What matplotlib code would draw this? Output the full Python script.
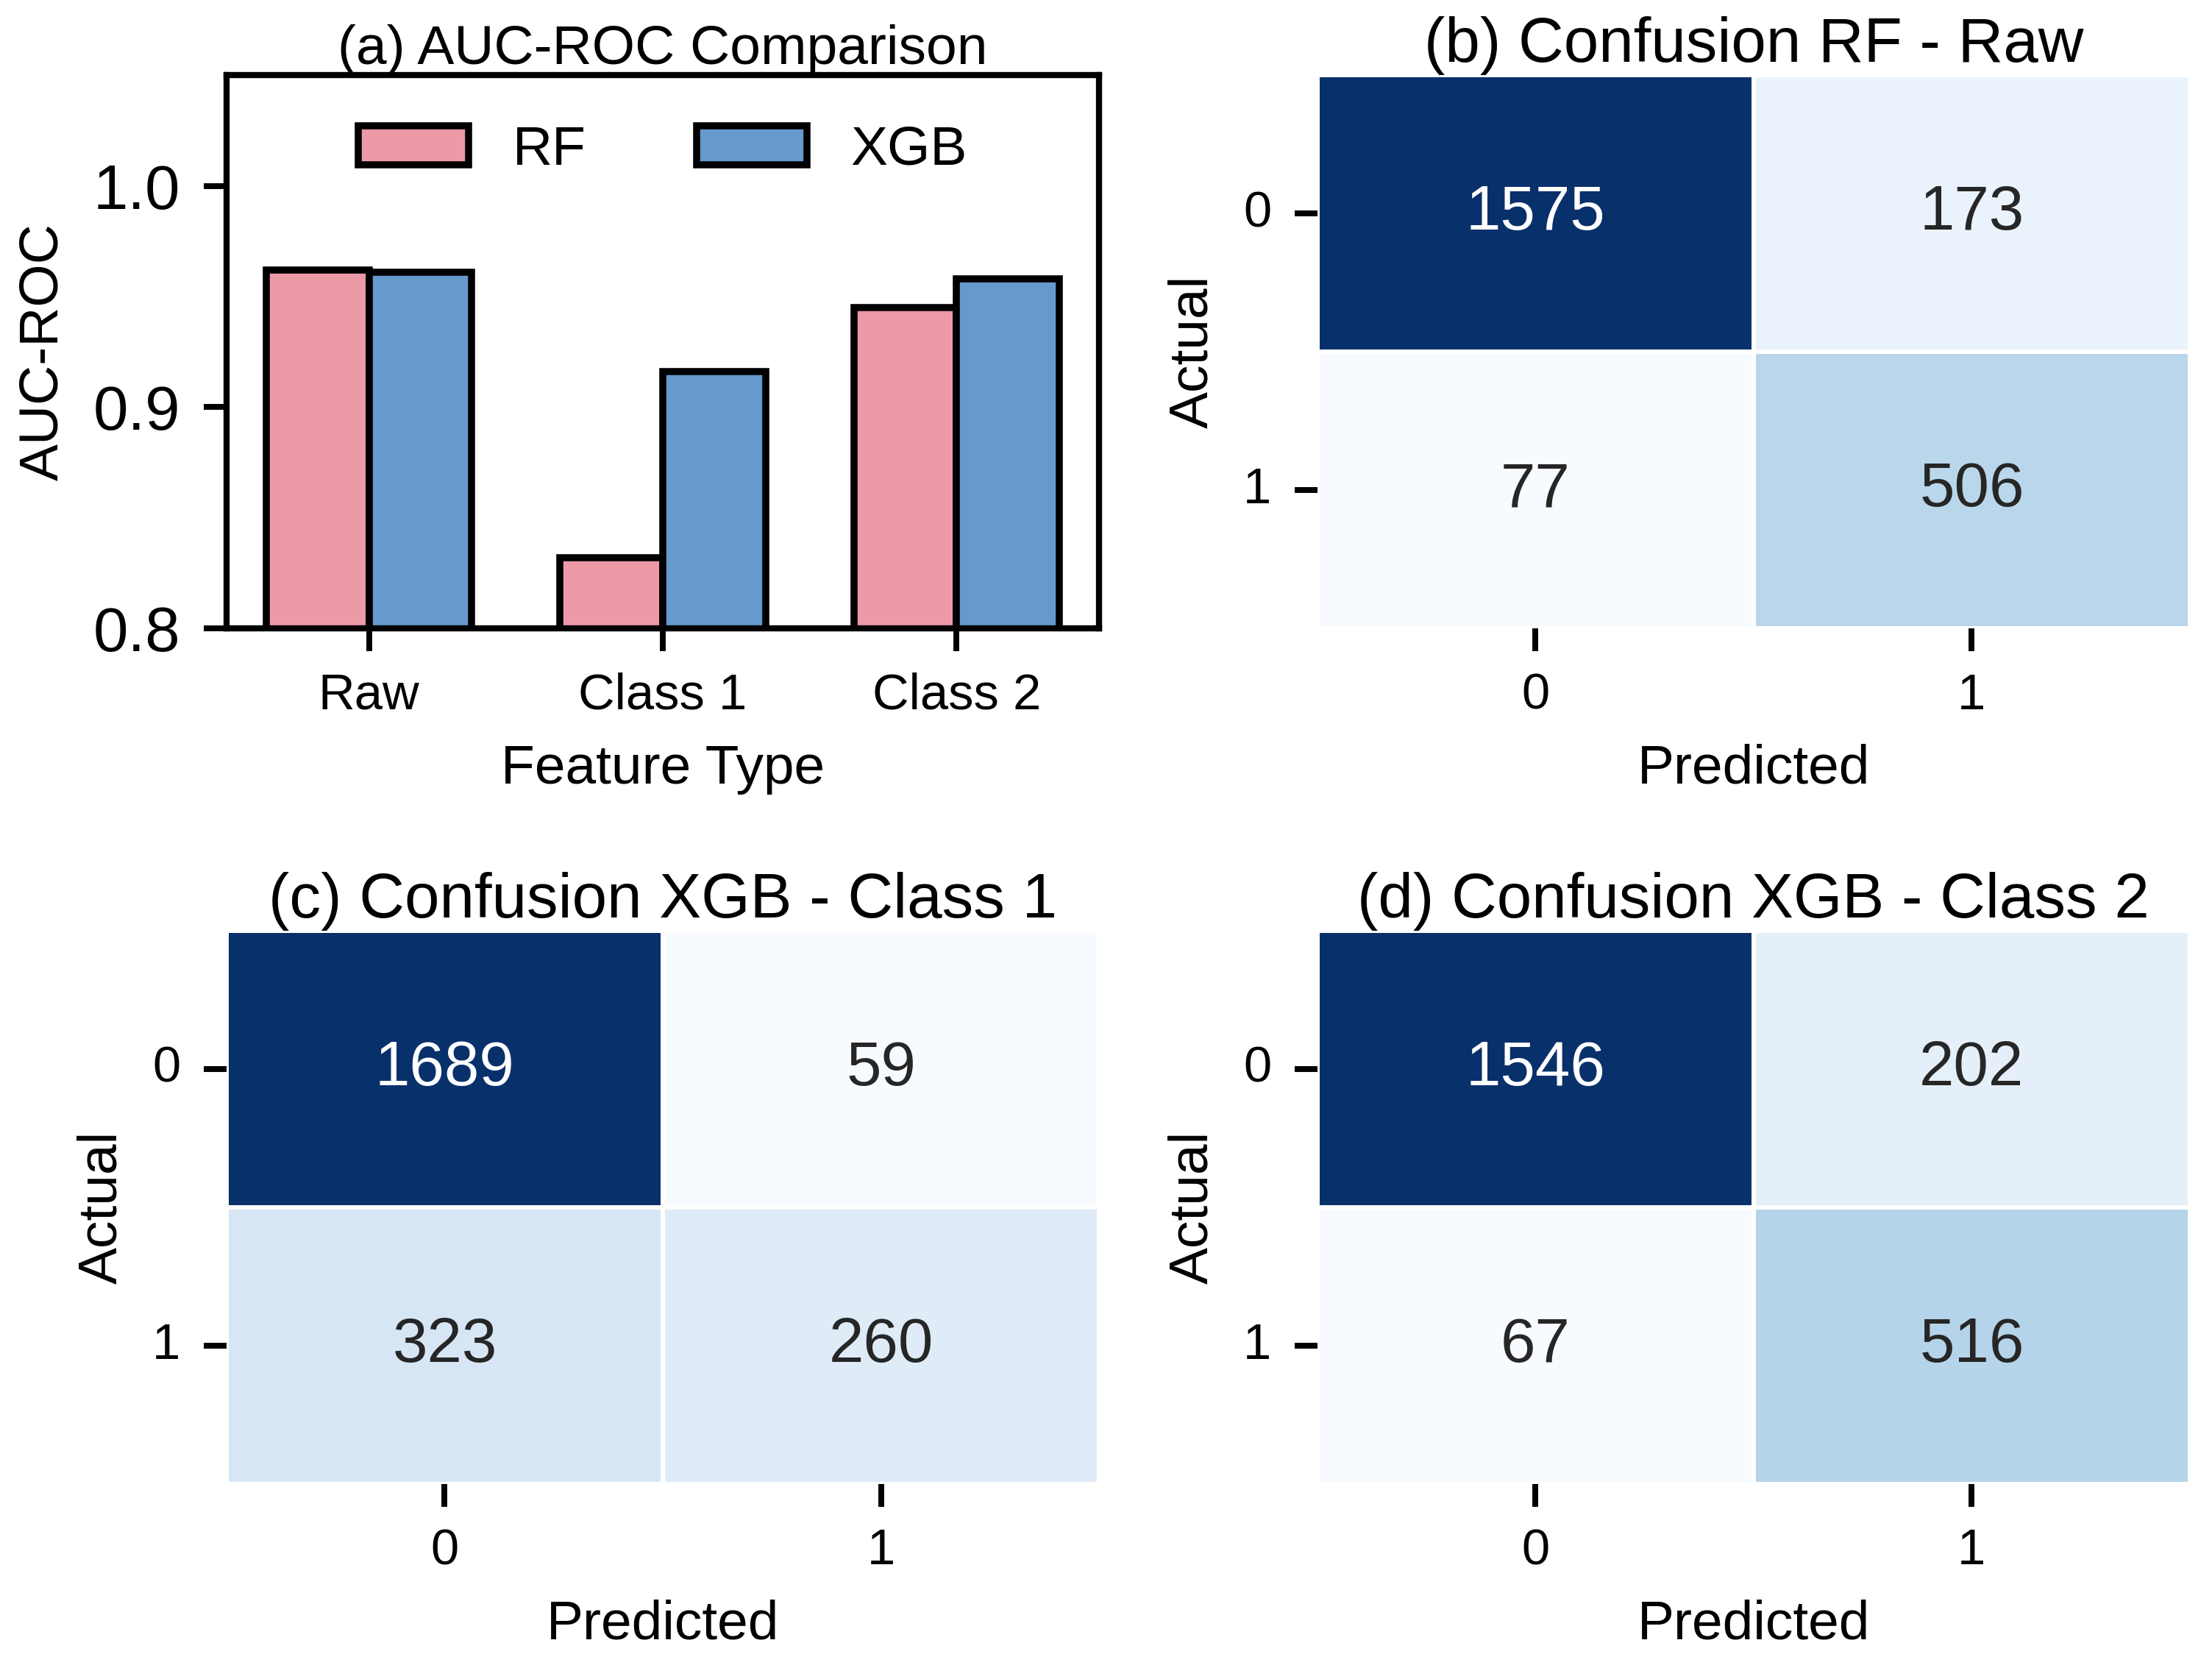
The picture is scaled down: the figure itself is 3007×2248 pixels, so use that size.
import matplotlib
matplotlib.use("Agg")
import matplotlib.pyplot as plt
import numpy as np
import seaborn as sns

# AUC-ROC per feature type
features = ["Raw", "Class 1", "Class 2"]
auc_rf = [0.962, 0.832, 0.945]
auc_xgb = [0.961, 0.916, 0.958]

# confusion matrices (rows = actual, cols = predicted)
class_labels = ["0", "1"]
cm_rf_raw = [[1575, 173], [77, 506]]
cm_xgb_c1 = [[1689, 59], [323, 260]]
cm_xgb_c2 = [[1546, 202], [67, 516]]

plt.rcParams["font.family"] = ["Liberation Sans", "DejaVu Sans"]
plt.rcParams["axes.linewidth"] = 2.0
plt.rcParams["xtick.major.size"] = 7.5
plt.rcParams["ytick.major.size"] = 7.5
plt.rcParams["xtick.major.width"] = 1.9
plt.rcParams["ytick.major.width"] = 1.9
plt.rcParams["xtick.major.pad"] = 6.7
plt.rcParams["ytick.major.pad"] = 7.5
plt.rcParams["axes.labelpad"] = 8

fig, axes = plt.subplots(2, 2, figsize=(3007 / 300, 2248 / 300), dpi=300)
fig.subplots_adjust(left=0.1024, right=0.990, bottom=0.1028, top=0.9546,
                    wspace=0.25, hspace=0.545)

# (a) bar chart
ax = axes[0, 0]
x = np.arange(len(features))
w = 0.35
ax.bar(x - w / 2, auc_rf, w, color="#EC99A8", edgecolor="black", linewidth=2.3, label="RF")
ax.bar(x + w / 2, auc_xgb, w, color="#6699CC", edgecolor="black", linewidth=2.3, label="XGB")
ax.set_ylim(0.8, 1.05)
ax.set_yticks([0.8, 0.9, 1.0])
ax.set_xticks(x)
ax.set_xticklabels(features, fontsize=16.5)
ax.tick_params(axis="y", labelsize=20.5)
ax.set_xlabel("Feature Type", fontsize=18)
ax.set_ylabel("AUC-ROC", fontsize=18)
ax.set_title("(a) AUC-ROC Comparison", fontsize=18, pad=0)
ax.legend(loc="upper center", ncol=2, frameon=False, fontsize=18)

# confusion heatmaps
panels = [
    (axes[0, 1], cm_rf_raw, "(b) Confusion RF - Raw"),
    (axes[1, 0], cm_xgb_c1, "(c) Confusion XGB - Class 1"),
    (axes[1, 1], cm_xgb_c2, "(d) Confusion XGB - Class 2"),
]
for ax, cm, title in panels:
    sns.heatmap(np.array(cm), annot=True, fmt="d", cmap="Blues", cbar=False,
                linewidths=1, linecolor="white", ax=ax,
                xticklabels=class_labels, yticklabels=class_labels,
                annot_kws={"size": 20.5})
    ax.set_yticklabels(class_labels, rotation=0, va="center")
    ax.tick_params(labelsize=16.5)
    ax.set_xlabel("Predicted", fontsize=18)
    ax.set_ylabel("Actual", fontsize=18)
    ax.set_title(title, fontsize=20.5, pad=1)

fig.savefig("out.png", dpi=300)
